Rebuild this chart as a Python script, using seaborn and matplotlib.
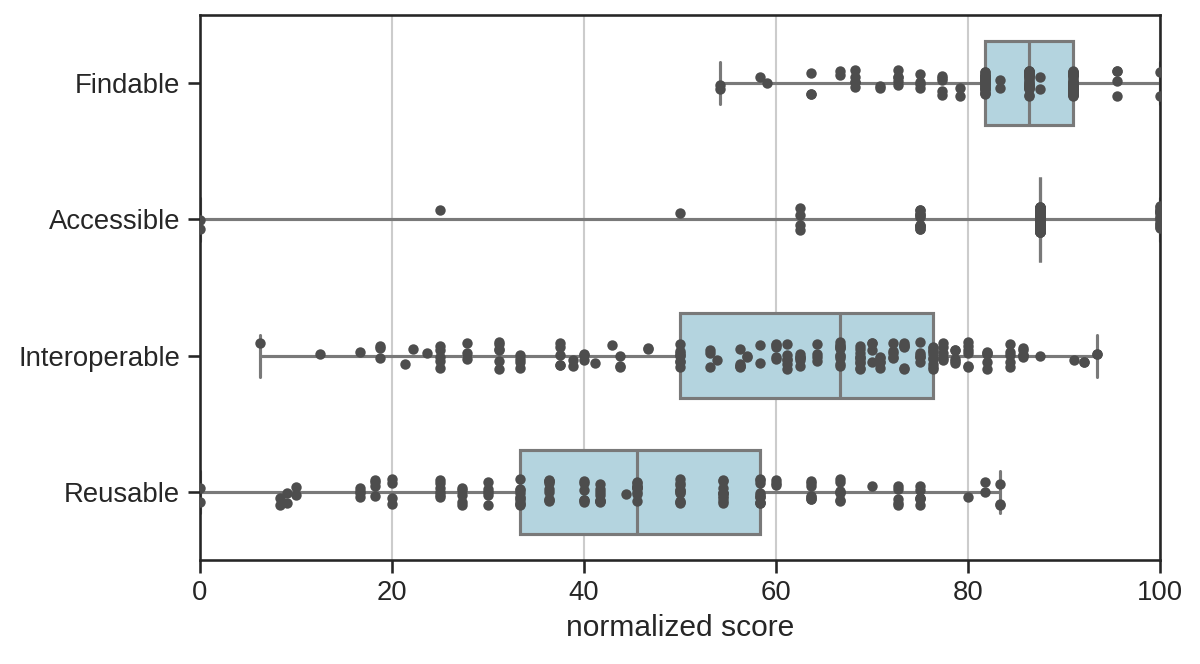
import numpy as np
import pandas as pd
import matplotlib
matplotlib.use("Agg")
import matplotlib.pyplot as plt
import seaborn as sns

categories = ["Findable", "Accessible", "Interoperable", "Reusable"]

findable_values = [54.2, 58.3, 59.1, 63.6, 66.7, 68.2, 70.8, 72.7, 75.0, 77.3, 79.2,
                   81.8, 83.3, 86.4, 87.5, 90.9, 95.5, 100.0]
findable_counts = [2, 1, 1, 3, 2, 5, 2, 5, 4, 5, 2,
                   28, 2, 24, 2, 38, 4, 2]

accessible_values = [0.0, 25.0, 50.0, 62.5, 75.0, 87.5, 100.0]
accessible_counts = [2, 1, 1, 4, 12, 60, 15]

interoperable_values = [6.25, 12.5, 16.7, 18.75, 21.4, 22.2, 23.6, 25.0, 27.8, 31.1,
                        33.3, 37.5, 38.9, 40.0, 41.1, 42.9, 43.75, 46.7,
                        50.0, 53.1, 53.8, 56.25, 57.0, 58.3, 60.0, 61.1, 62.5, 64.3,
                        66.7, 68.75, 70.0, 70.8, 72.2, 73.3, 75.0, 76.4,
                        77.4, 78.6, 80.0, 82.0, 84.4, 85.7, 87.5, 91.0, 92.1, 93.4]
interoperable_counts = [1, 1, 1, 3, 1, 1, 1, 5, 3, 6,
                        4, 5, 2, 3, 1, 1, 3, 2,
                        8, 3, 1, 5, 2, 2, 5, 6, 6, 4,
                        10, 10, 4, 5, 5, 6, 6, 10,
                        5, 5, 6, 5, 5, 5, 1, 1, 2, 2]

reusable_values = [0.0, 8.3, 9.1, 10.0, 16.7, 18.2, 20.0, 25.0, 27.3, 30.0,
                   33.3, 36.4, 40.0, 41.7, 44.4, 45.5, 50.0, 54.5, 58.3,
                   60.0, 63.6, 66.7, 70.0, 72.7, 75.0, 80.0, 81.8, 83.3]
reusable_counts = [2, 2, 2, 2, 4, 4, 4, 6, 5, 5,
                   10, 9, 6, 8, 1, 10, 10, 10, 10,
                   3, 7, 7, 1, 5, 6, 1, 2, 3]

series = {
    "Findable": (findable_values, findable_counts),
    "Accessible": (accessible_values, accessible_counts),
    "Interoperable": (interoperable_values, interoperable_counts),
    "Reusable": (reusable_values, reusable_counts),
}

frames = []
for name in categories:
    vals, counts = series[name]
    frames.append(pd.DataFrame({"principle": name,
                                "score": np.repeat(vals, counts)}))
df = pd.concat(frames, ignore_index=True)

sns.set_style("ticks")
sns.set_context("notebook", font_scale=1.2)
plt.rcParams["font.family"] = ["Liberation Sans", "DejaVu Sans"]

np.random.seed(3)
fig, ax = plt.subplots(figsize=(8, 4.4267), dpi=150)
fig.subplots_adjust(left=0.1667, right=0.9667, top=0.9774, bottom=0.1566)

sns.boxplot(data=df, x="score", y="principle", order=categories, color="lightblue",
            width=0.62, whis=(0, 100), linewidth=1.5, ax=ax)
sns.stripplot(data=df, x="score", y="principle", order=categories, color=".3",
              size=5, ax=ax)

ax.set_xlim(0, 100)
ax.set_xticks([0, 20, 40, 60, 80, 100])
ax.xaxis.grid(True)
ax.set_axisbelow(True)
ax.set_xlabel("normalized score")
ax.set_ylabel("")

fig.savefig("out.png", dpi=150)
